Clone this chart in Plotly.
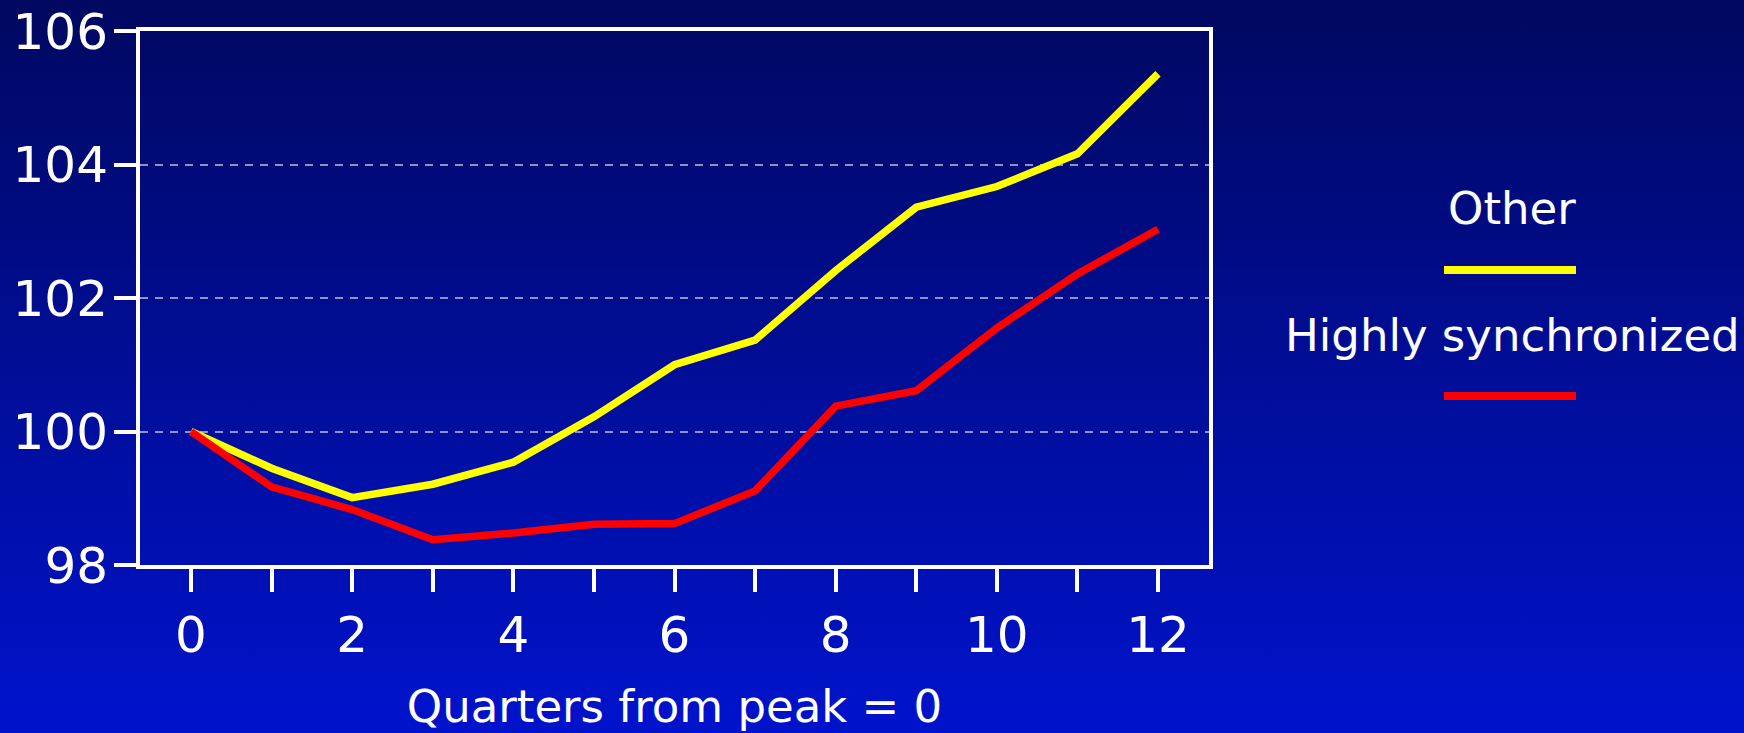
import plotly.graph_objects as go

# ---- data ----
quarters = list(range(13))
tick_labels = ["0", "", "2", "", "4", "", "6", "", "8", "", "10", "", "12"]
other = [100.0, 99.45, 99.01, 99.21, 99.54, 100.22, 101.0, 101.37, 102.41, 103.36, 103.67, 104.16, 105.36]
highly_sync = [100.0, 99.17, 98.83, 98.38, 98.48, 98.61, 98.62, 99.11, 100.38, 100.61, 101.55, 102.36, 103.03]
series_names = ["Other", "Highly synchronized"]
series_colors = ["#ffff00", "#ff0000"]
y_ticks = [98, 100, 102, 104, 106]

# ---- geometry ----
W, H = 1744, 733
L, R, T, B = 140, 535, 31, 168
pw, ph = W - L - R, H - T - B
FONT = "DejaVu Sans"

def px_x(px):
    return (px - L) / pw

def px_y(py):
    return 1 - (py - T) / ph

fig = go.Figure()
for name, vals, col in [(series_names[0], other, series_colors[0]),
                        (series_names[1], highly_sync, series_colors[1])]:
    fig.add_trace(go.Scatter(x=quarters, y=vals, mode="lines", name=name,
                             line=dict(color=col, width=7.5), showlegend=False))

# legend built from annotations + shapes
legend_text_y = [209, 335]
legend_line_y = [270, 396]
for name, col, ty, ly in zip(series_names, series_colors, legend_text_y, legend_line_y):
    fig.add_annotation(text=name, xref="paper", yref="paper", x=px_x(1512), y=px_y(ty),
                       xanchor="center", yanchor="middle", showarrow=False,
                       font=dict(family=FONT, size=45, color="white"))
    fig.add_shape(type="line", xref="paper", yref="paper",
                  x0=px_x(1444), x1=px_x(1576), y0=px_y(ly), y1=px_y(ly),
                  line=dict(color=col, width=8))

fig.update_layout(
    width=W, height=H, autosize=False,
    margin=dict(l=L, r=R, t=T, b=B, pad=0),
    paper_bgcolor="rgba(0,0,0,0)", plot_bgcolor="rgba(0,0,0,0)",
    font=dict(family=FONT, color="white"),
    showlegend=False,
)
fig.update_xaxes(range=[-0.633, 12.633], tickmode="array", tickvals=quarters, ticktext=tick_labels,
                 ticks="outside", ticklen=23, tickwidth=4, tickcolor="white",
                 showline=True, linewidth=4, linecolor="white", mirror=True,
                 showgrid=False, zeroline=False, automargin=False,
                 tickfont=dict(family=FONT, size=50, color="white"),
                 title=dict(text="Quarters from peak = 0", standoff=34,
                            font=dict(family=FONT, size=45, color="white")))
fig.update_yaxes(range=[98, 106], tickmode="array", tickvals=y_ticks,
                 ticks="outside", ticklen=22, tickwidth=4, tickcolor="white",
                 showline=True, linewidth=4, linecolor="white", mirror=True,
                 showgrid=True, gridcolor="rgba(255,255,255,0.55)", gridwidth=2, griddash="8px,7px",
                 zeroline=False, automargin=False, ticklabelstandoff=-4,
                 tickfont=dict(family=FONT, size=50, color="white"))

bg_js = (
    "document.documentElement.style.margin='0';document.documentElement.style.padding='0';"
    "document.body.style.margin='0';document.body.style.padding='0';document.body.style.overflow='hidden';"
    "var bgc='linear-gradient(to bottom, #000860 0px, #0013cc 733px)';"
    "document.documentElement.style.background=bgc;document.body.style.background=bgc;"
    "document.documentElement.style.backgroundColor='#0013cc';"
)
fig.write_html("out.html", config={"displayModeBar": False}, post_script=bg_js)
